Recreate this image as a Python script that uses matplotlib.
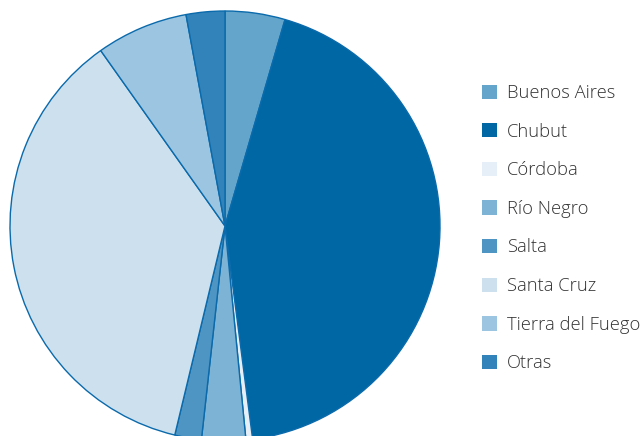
import matplotlib
matplotlib.use("Agg")
import matplotlib.pyplot as plt
from matplotlib.patches import Patch

provincias = ["Buenos Aires", "Chubut", "Córdoba", "Río Negro", "Salta",
              "Santa Cruz", "Tierra del Fuego", "Otras"]
participacion = [4.5, 43.4, 0.5, 3.3, 2.0, 36.4, 6.9, 2.9]
colores = ["#64a5cb", "#0067a5", "#e6eff7", "#7db3d5", "#4e95c4",
           "#cde0ee", "#9bc5e0", "#3383bb"]

plt.rcParams["font.family"] = ["Open Sans", "DejaVu Sans"]

W, H = 643, 436
fig = plt.figure(figsize=(W / 100, H / 100), dpi=100)
fig.patch.set_facecolor("white")

# pie axes: center (225, 226) px, radius 215 px
cx, cy, r = 225, 226, 215
ax = fig.add_axes([(cx - r) / W, (H - cy - r) / H, 2 * r / W, 2 * r / H])
ax.pie(participacion, colors=colores, startangle=90, counterclock=False,
       radius=1, wedgeprops=dict(edgecolor="#0a6aab", linewidth=1.0))
ax.set_xlim(-1, 1)
ax.set_ylim(-1, 1)
ax.set_aspect("equal")
ax.axis("off")

fs = 13.2
fs_px = fs * 100 / 72
handles = [Patch(facecolor=c, edgecolor="none") for c in colores]
leg = fig.legend(handles, provincias, loc="upper left",
                 bbox_to_anchor=(482 / W, 1 - 84 / H), frameon=False,
                 prop=dict(family=["Open Sans", "DejaVu Sans"], weight=300, size=fs),
                 handlelength=15 / fs_px, handleheight=15 / fs_px,
                 handletextpad=10 / fs_px,
                 labelspacing=1.125, borderpad=0, borderaxespad=0)
for t in leg.get_texts():
    t.set_color("#333333")

fig.savefig("out.png", dpi=100, facecolor="white")
